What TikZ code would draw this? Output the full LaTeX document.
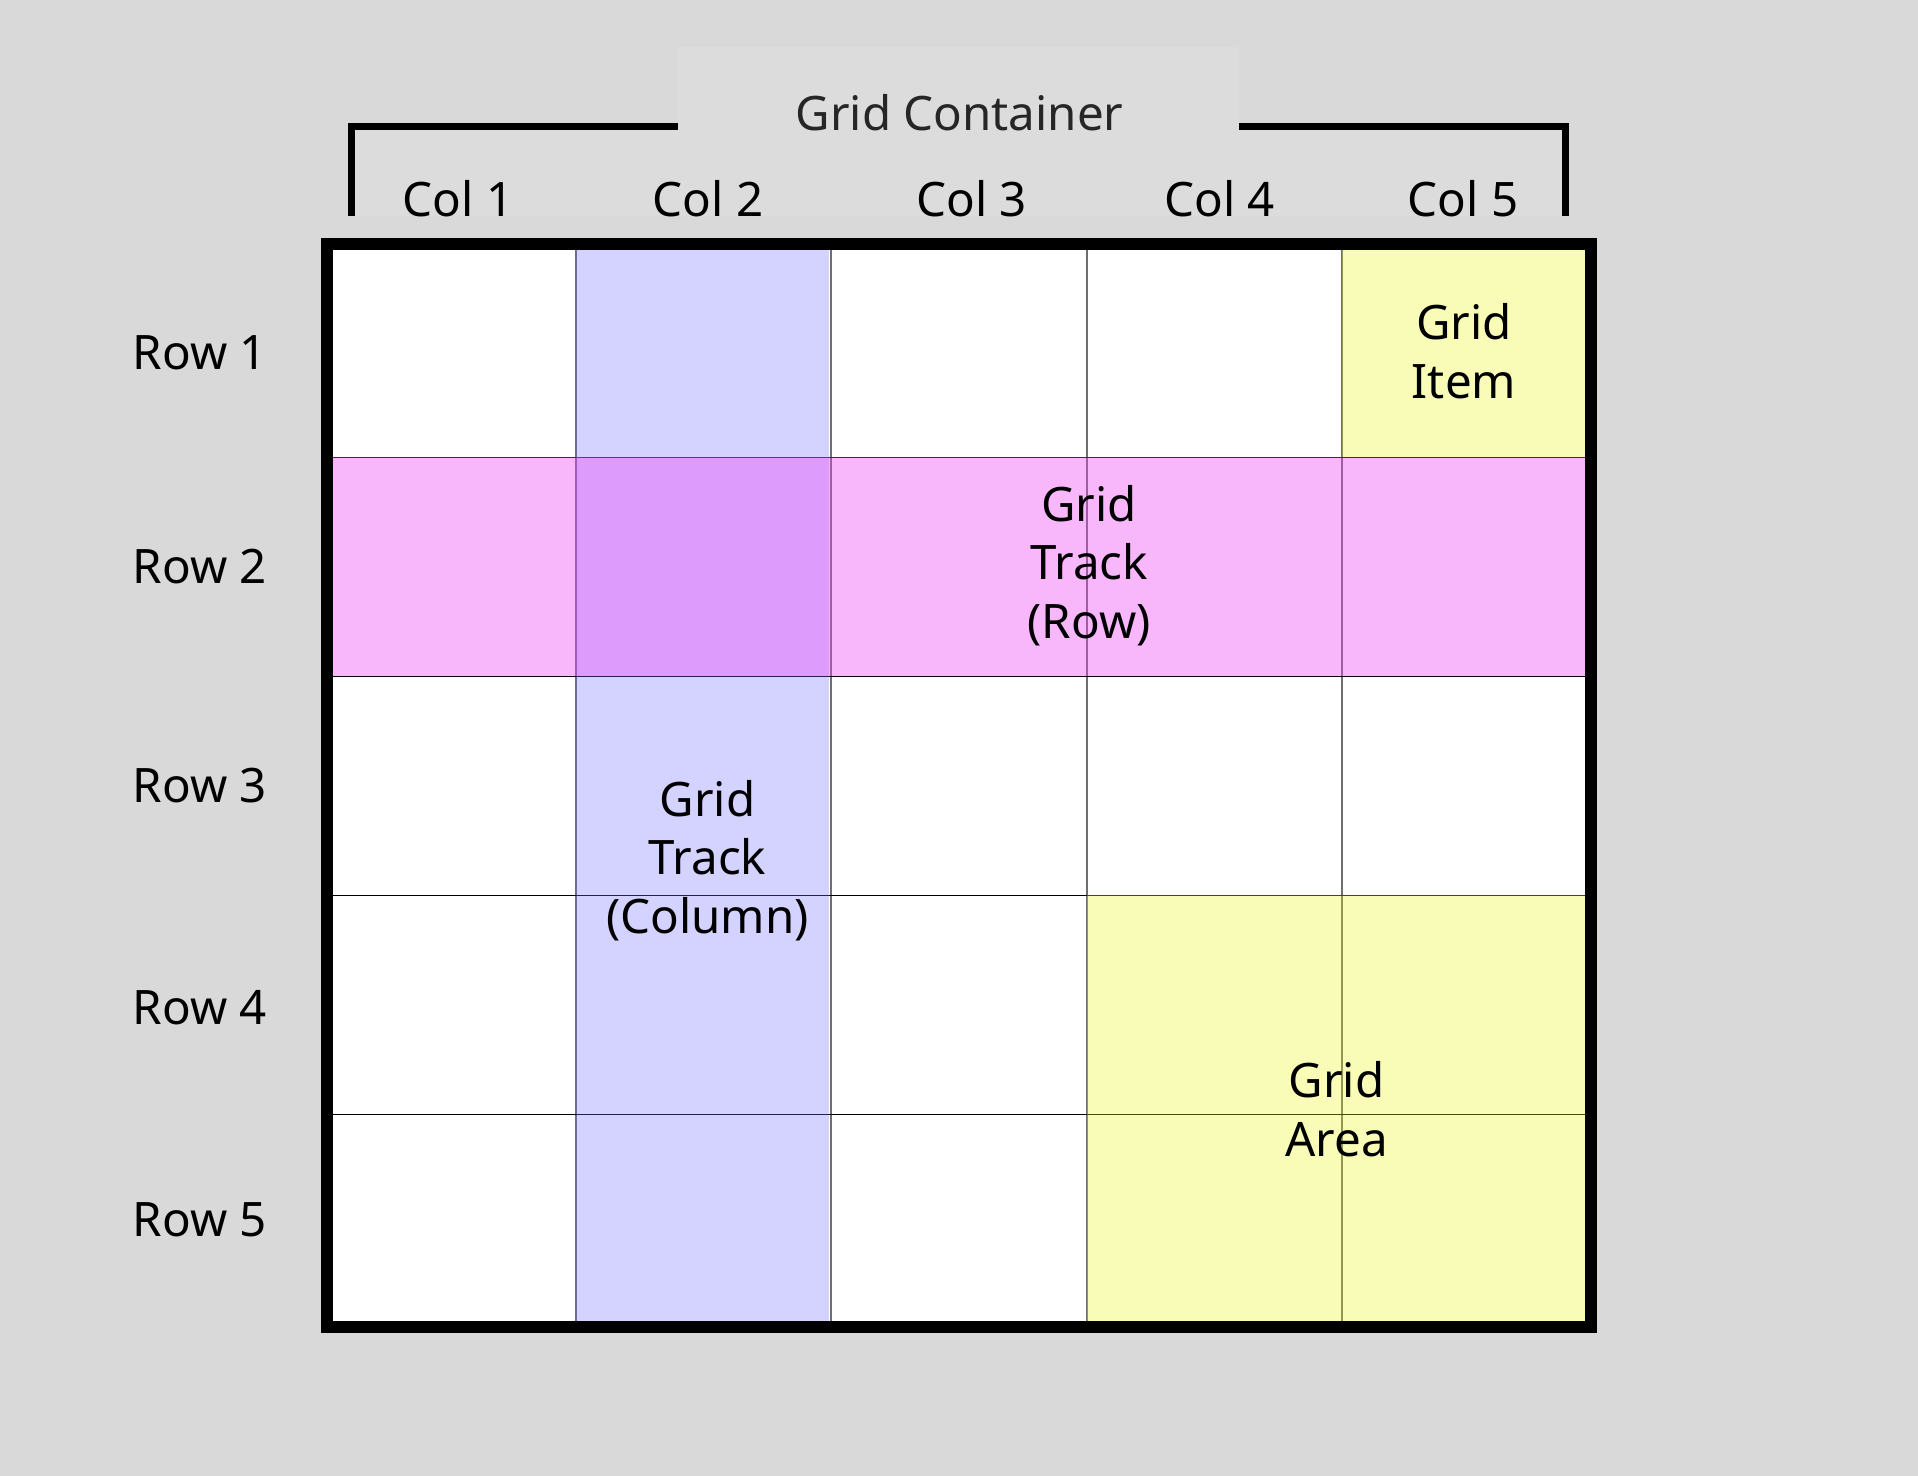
\documentclass[tikz,border=0pt]{standalone}
\usepackage{fontspec}
\setmainfont{Noto Sans}
\definecolor{bgc}{HTML}{D9D9D9}
\definecolor{boxc}{HTML}{DCDCDC}
\definecolor{titlec}{HTML}{262626}
\definecolor{lav}{RGB}{115,108,252}
\definecolor{pnk}{RGB}{237,68,247}
\definecolor{ylw}{RGB}{232,248,18}
\definecolor{vline}{HTML}{6E6E6E}
\begin{document}
\begin{tikzpicture}[x=0.01cm,y=-0.01cm,
  lbl/.style={font=\fontsize{13.5pt}{16.5pt}\selectfont, inner sep=0pt, text=black},
  multi/.style={lbl, align=center, anchor=base},
  hgrid/.style={draw=black, line width=0.45pt},
  vgrid/.style={draw=vline, line width=0.5pt},
  bracket/.style={draw=black, line width=2pt},
  border/.style={draw=black, line width=3.41pt},
  lavfill/.style={fill=lav, fill opacity=0.3},
  pnkfill/.style={fill=pnk, fill opacity=0.38},
  ylwfill/.style={fill=ylw, fill opacity=0.3}]
\useasboundingbox (0,0) rectangle (1918,1476);
\fill[bgc] (0,0) rectangle (1918,1476);
% subtle header boxes
\fill[boxc] (678,47) rectangle (1239,216);
\fill[boxc] (355,130) rectangle (1562,216);
% bracket
\coordinate (bl1) at (351.5,216);
\coordinate (bl2) at (351.5,126.5);
\coordinate (bl3) at (678,126.5);
\coordinate (br1) at (1239,126.5);
\coordinate (br2) at (1565.5,126.5);
\coordinate (br3) at (1565.5,216);
\draw[bracket] (bl1) -- (bl2) -- (bl3);
\draw[bracket] (br1) -- (br2) -- (br3);
% grid cells
\fill[white] (320.7,238.3) rectangle (1597,1333.3);
% grid lines
\foreach \gx in {576,831.3,1086.7,1342}
  \draw[vgrid] (\gx,238.3) -- (\gx,1333.3);
\foreach \gy in {457.3,676.3,895.3,1114.3}
  \draw[hgrid] (320.7,\gy) -- (1597,\gy);
% overlays
\fill[lavfill] (576,244) rectangle (829,1327);
\fill[pnkfill] (326,457.3) rectangle (1592,676.3);
\fill[ylwfill] (1342,244) rectangle (1592,457.3);
\fill[ylwfill] (1086.7,895.3) rectangle (1592,1327);
% border
\draw[border] (326.7,244.3) rectangle (1591,1327.3);
% header texts
\node[lbl, text=titlec, anchor=base] (title) at (959.5,131) {Grid Container};
\node[lbl, anchor=base] (c1) at (458,216) {Col 1};
\node[lbl, anchor=base] (c2) at (708,216) {Col 2};
\node[lbl, anchor=base] (c3) at (971.5,216) {Col 3};
\node[lbl, anchor=base] (c4) at (1219.5,216) {Col 4};
\node[lbl, anchor=base] (c5) at (1463,216) {Col 5};
% row labels
\node[lbl, anchor=base west] (r1) at (132,369) {Row 1};
\node[lbl, anchor=base west] (r2) at (132,583) {Row 2};
\node[lbl, anchor=base west] (r3) at (132,802) {Row 3};
\node[lbl, anchor=base west] (r4) at (132,1024) {Row 4};
\node[lbl, anchor=base west] (r5) at (132,1236) {Row 5};
% cell texts (base anchor = last line baseline)
\node[multi] (item) at (1464,398) {Grid\\Item};
\node[multi] (trow) at (1089,638) {Grid\\Track\\(Row)};
\node[multi] (tcol) at (707.5,933) {Grid\\Track\\(Column)};
\node[multi] (area) at (1336.5,1156) {Grid\\Area};
\end{tikzpicture}
\end{document}
